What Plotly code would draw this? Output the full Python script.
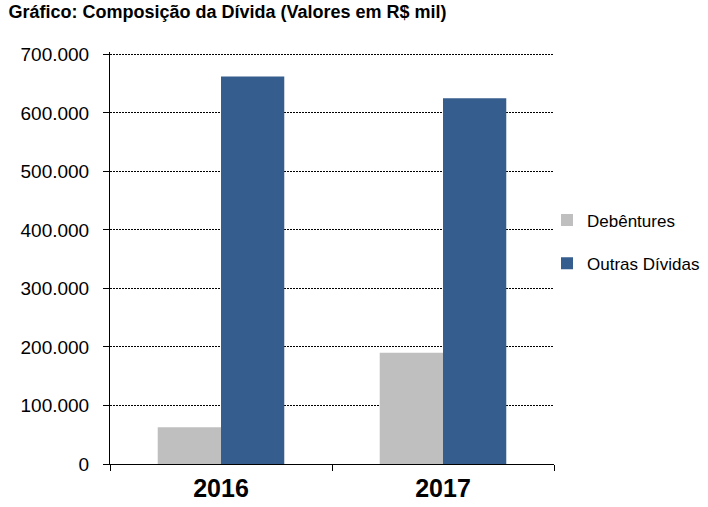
import plotly.graph_objects as go

categories = ["2016", "2017"]
debentures = [63000, 190000]
outras = [662000, 625000]
y_ticks = [0, 100000, 200000, 300000, 400000, 500000, 600000, 700000]

fig = go.Figure()
fig.add_trace(go.Bar(x=categories, y=debentures, name="Debêntures",
                     marker=dict(color="#BFBFBF", line=dict(width=0)), legendgroup="a"))
fig.add_trace(go.Bar(x=categories, y=outras, name="Outras Dívidas",
                     marker=dict(color="#355E8E", line=dict(width=0)), legendgroup="b"))

fig.update_layout(
    width=708, height=507,
    margin=dict(l=110, r=154, t=52, b=43, autoexpand=False),
    paper_bgcolor="white", plot_bgcolor="white",
    separators=",.",
    barmode="group", bargap=0.43, bargroupgap=0,
    font=dict(family="Liberation Sans, Arial, sans-serif", color="black"),
    title=dict(text="<b>Gráfico: Composição da Dívida (Valores em R$ mil)</b>",
               x=0.012, xanchor="left", y=0.976, yanchor="middle",
               font=dict(size=18, color="black")),
    legend=dict(xref="container", yref="container", x=547 / 708, y=1 - 242 / 507,
                xanchor="left", yanchor="middle",
                font=dict(size=17), tracegroupgap=18, itemwidth=30,
                bgcolor="rgba(0,0,0,0)"),
    showlegend=True,
)
fig.update_xaxes(
    showline=True, linecolor="black", linewidth=1,
    ticks="outside", tickson="boundaries", ticklen=6, tickcolor="black",
    tickfont=dict(size=25, family="Liberation Sans, Arial, sans-serif"),
    showgrid=False, ticklabelstandoff=2,
)
fig.update_xaxes(ticktext=["<b>2016</b>", "<b>2017</b>"], tickvals=categories)
fig.update_yaxes(
    range=[0, 704000], tickvals=y_ticks, tickformat=",d",
    showline=True, linecolor="black", linewidth=1,
    ticks="outside", ticklen=6, tickcolor="black",
    showgrid=True, gridcolor="black", gridwidth=1, griddash="2px,1px",
    tickfont=dict(size=19), zeroline=False, ticklabelstandoff=10,
)
fig.write_html("out.html", config={"displayModeBar": False},
               post_script="document.body.style.margin='0';")
